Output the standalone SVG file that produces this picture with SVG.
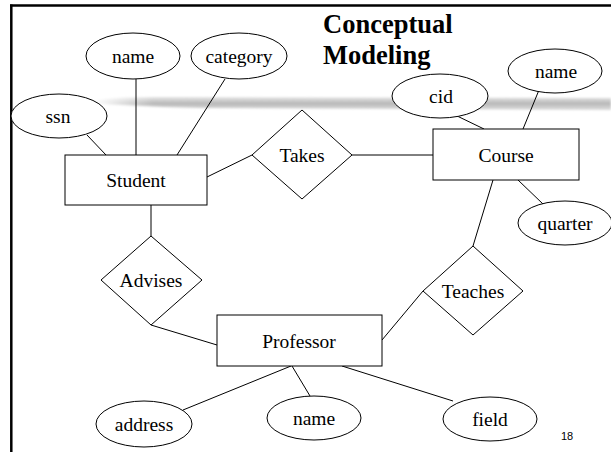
<svg xmlns="http://www.w3.org/2000/svg" width="611" height="452" viewBox="0 0 611 452">
<defs>
<style>
.s{fill:#fff;stroke:#000;stroke-width:1}
.c{stroke:#000;stroke-width:1;fill:none}
.t{font-family:"Liberation Serif","Times New Roman",serif;font-size:19.5px;fill:#000;text-anchor:middle}
.h{font-family:"Liberation Serif","Times New Roman",serif;font-size:26.5px;font-weight:bold;fill:#000}
</style>
<linearGradient id="band" x1="0" y1="0" x2="0" y2="1">
<stop offset="0" stop-color="#e6e6e6"/>
<stop offset="0.5" stop-color="#b8b8b8"/>
<stop offset="1" stop-color="#dedede"/>
</linearGradient>
<linearGradient id="fadeL" x1="0" y1="0" x2="1" y2="0">
<stop offset="0" stop-color="#fff" stop-opacity="1"/>
<stop offset="1" stop-color="#fff" stop-opacity="0"/>
</linearGradient>
<filter id="soft" x="-5%" y="-50%" width="110%" height="200%">
<feGaussianBlur stdDeviation="0.8"/>
</filter>
</defs>
<rect width="611" height="452" fill="#fff"/>
<g id="frame">
<line x1="10" y1="5.5" x2="611" y2="5.5" stroke="#000" stroke-width="2.5"/>
<line x1="11.3" y1="4.5" x2="11.3" y2="452" stroke="#000" stroke-width="2.5"/>
</g>
<g id="band-stroke" filter="url(#soft)">
<path d="M93 101 Q110 97 160 97 L611 98 L611 110 L200 108 Q120 106 93 103 Z" fill="url(#band)"/>
<rect x="93" y="95" width="60" height="16" fill="url(#fadeL)"/>
</g>
<g id="title">
<text class="h" x="323" y="33">Conceptual</text>
<text class="h" x="323" y="64">Modeling</text>
</g>
<g id="connectors">
<line class="c" x1="87" y1="135" x2="106" y2="155"/>
<line class="c" x1="136" y1="79" x2="136" y2="155"/>
<line class="c" x1="225" y1="79" x2="177" y2="155"/>
<line class="c" x1="207" y1="177" x2="252" y2="155"/>
<line class="c" x1="352" y1="155" x2="433" y2="155"/>
<line class="c" x1="453" y1="114" x2="484" y2="129"/>
<line class="c" x1="539" y1="90" x2="523" y2="129"/>
<line class="c" x1="518" y1="180" x2="543" y2="204"/>
<line class="c" x1="493" y1="180" x2="473" y2="246"/>
<line class="c" x1="382" y1="340" x2="423" y2="291"/>
<line class="c" x1="151" y1="205" x2="151" y2="236"/>
<line class="c" x1="151" y1="325" x2="217" y2="345"/>
<line class="c" x1="291" y1="366" x2="183" y2="410"/>
<line class="c" x1="292" y1="366" x2="310" y2="396"/>
<line class="c" x1="342" y1="366" x2="453" y2="401"/>
</g>
<g id="student">
<rect class="s" x="65" y="155" width="142" height="50"/>
<text class="t" x="136" y="187">Student</text>
</g>
<g id="student-name">
<ellipse class="s" cx="133" cy="56" rx="47" ry="23"/>
<text class="t" x="133" y="63">name</text>
</g>
<g id="student-category">
<ellipse class="s" cx="239" cy="56" rx="48" ry="23"/>
<text class="t" x="239" y="63">category</text>
</g>
<g id="student-ssn">
<ellipse class="s" cx="59" cy="116" rx="48" ry="22"/>
<text class="t" x="58" y="123">ssn</text>
</g>
<g id="takes">
<polygon class="s" points="302,110 352,155 302,199 252,155"/>
<text class="t" x="302" y="162">Takes</text>
</g>
<g id="course">
<rect class="s" x="433" y="129" width="146" height="51"/>
<text class="t" x="506" y="162">Course</text>
</g>
<g id="course-cid">
<ellipse class="s" cx="440" cy="96" rx="48" ry="22"/>
<text class="t" x="441" y="103">cid</text>
</g>
<g id="course-name">
<ellipse class="s" cx="555" cy="71" rx="47" ry="22"/>
<text class="t" x="556" y="78">name</text>
</g>
<g id="course-quarter">
<ellipse class="s" cx="565" cy="223" rx="47" ry="22"/>
<text class="t" x="565" y="230">quarter</text>
</g>
<g id="teaches">
<polygon class="s" points="473,246 523,291 473,335 423,291"/>
<text class="t" x="473" y="298">Teaches</text>
</g>
<g id="advises">
<polygon class="s" points="151,236 202,280 151,325 101,280"/>
<text class="t" x="151" y="287">Advises</text>
</g>
<g id="professor">
<rect class="s" x="217" y="315" width="165" height="51"/>
<text class="t" x="299" y="348">Professor</text>
</g>
<g id="professor-address">
<ellipse class="s" cx="144" cy="424" rx="48" ry="23"/>
<text class="t" x="144" y="431">address</text>
</g>
<g id="professor-name">
<ellipse class="s" cx="314" cy="418" rx="47" ry="22"/>
<text class="t" x="314" y="425">name</text>
</g>
<g id="professor-field">
<ellipse class="s" cx="490" cy="419" rx="47" ry="22"/>
<text class="t" x="490" y="426">field</text>
</g>
<g id="page-number">
<text x="567" y="440" font-family="'Liberation Sans',Arial,sans-serif" font-size="11" fill="#000" text-anchor="middle">18</text>
</g>
</svg>
